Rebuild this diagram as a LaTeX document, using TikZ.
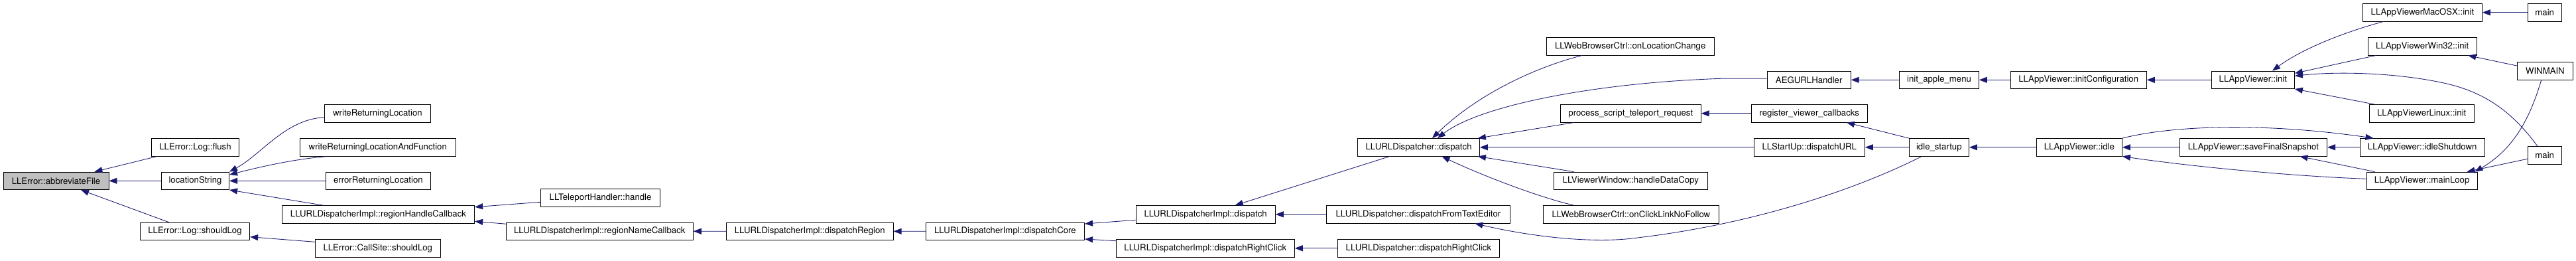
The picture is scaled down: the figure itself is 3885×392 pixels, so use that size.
\documentclass[tikz,border=0pt]{standalone}
\usepackage{fontspec}
\setmainfont{TeX Gyre Heros}
\usetikzlibrary{arrows.meta}
\definecolor{edgec}{HTML}{191970}
\definecolor{fillg}{HTML}{BFBFBF}
\begin{document}
\begin{tikzpicture}[x=1pt,y=-1pt,
  nd/.style={draw=black, line width=0.9pt, inner sep=0pt, minimum height=26.5pt, anchor=center,
    font=\fontsize{13.2}{15}\selectfont, text=black},
  e/.style={draw=edgec, line width=0.85pt, -{Triangle[length=12pt,width=9pt]}, edgec}]
\useasboundingbox (0,0) rectangle (3885,392);
% nodes
\node[nd, fill=fillg, minimum width=159pt] (abbrev) at (84.5,272.3) {LLError::abbreviateFile};
\node[nd, minimum width=132pt] (flush) at (294.5,221.8) {LLError::Log::flush};
\node[nd, minimum width=102.2pt] (locStr) at (294.5,272.3) {locationString};
\node[nd, minimum width=165.3pt] (logShould) at (294,348.3) {LLError::Log::shouldLog};
\node[nd, minimum width=160.2pt] (wRL) at (569.4,170.8) {writeReturningLocation};
\node[nd, minimum width=235.2pt] (wRLAF) at (569.8,222) {writeReturningLocationAndFunction};
\node[nd, minimum width=158.3pt] (eRL) at (570.4,272.3) {errorReturningLocation};
\node[nd, minimum width=290.4pt] (rHC) at (570.5,323) {LLURLDispatcherImpl::regionHandleCallback};
\node[nd, minimum width=188.9pt] (csShould) at (569.8,373.8) {LLError::CallSite::shouldLog};
\node[nd, minimum width=180.2pt] (tpHandle) at (905.6,297.7) {LLTeleportHandler::handle};
\node[nd, minimum width=282pt] (rNC) at (904.3,348.2) {LLURLDispatcherImpl::regionNameCallback};
\node[nd, minimum width=251.8pt] (dRegion) at (1221.3,348.3) {LLURLDispatcherImpl::dispatchRegion};
\node[nd, minimum width=239.4pt] (dCore) at (1515.9,348.2) {LLURLDispatcherImpl::dispatchCore};
\node[nd, minimum width=210.2pt] (iDispatch) at (1818.2,322.8) {LLURLDispatcherImpl::dispatch};
\node[nd, minimum width=269pt] (iRightClick) at (1817.8,373.8) {LLURLDispatcherImpl::dispatchRightClick};
\node[nd, minimum width=183.7pt] (uDispatch) at (2139.6,221.8) {LLURLDispatcher::dispatch};
\node[nd, minimum width=277pt] (uFromTE) at (2138.9,322.8) {LLURLDispatcher::dispatchFromTextEditor};
\node[nd, minimum width=243.9pt] (uRightClick) at (2139.4,373.8) {LLURLDispatcher::dispatchRightClick};
\node[nd, minimum width=252.9pt] (onLocChange) at (2458.7,69.8) {LLWebBrowserCtrl::onLocationChange};
\node[nd, minimum width=211.9pt] (pstr) at (2459.3,170.8) {process\_script\_teleport\_request};
\node[nd, minimum width=231.7pt] (hdc) at (2459.3,272.3) {LLViewerWindow::handleDataCopy};
\node[nd, minimum width=265.3pt] (onClick) at (2459.9,322.8) {LLWebBrowserCtrl::onClickLinkNoFollow};
\node[nd, minimum width=126.1pt] (aeg) at (2728.2,120.3) {AEGURLHandler};
\node[nd, minimum width=175.5pt] (rvc) at (2728.8,170.8) {register\_viewer\_callbacks};
\node[nd, minimum width=167.2pt] (suDURL) at (2728.8,221.8) {LLStartUp::dispatchURL};
\node[nd, minimum width=119.8pt] (iam) at (2924.5,120.3) {init\_apple\_menu};
\node[nd, minimum width=205.2pt] (initConf) at (3134.7,120.3) {LLAppViewer::initConfiguration};
\node[nd, minimum width=90.4pt] (idleSt) at (2924.3,221.8) {idle\_startup};
\node[nd, minimum width=129.3pt] (avIdle) at (3135.8,221.8) {LLAppViewer::idle};
\node[nd, minimum width=125pt] (avInit) at (3397.9,120.3) {LLAppViewer::init};
\node[nd, minimum width=222.3pt] (sfs) at (3398.4,221.8) {LLAppViewer::saveFinalSnapshot};
\node[nd, minimum width=179.9pt] (mac) at (3653.4,18.8) {LLAppViewerMacOSX::init};
\node[nd, minimum width=164.5pt] (win32) at (3653.2,69.8) {LLAppViewerWin32::init};
\node[nd, minimum width=158.2pt] (linux) at (3652.2,170.8) {LLAppViewerLinux::init};
\node[nd, minimum width=188.4pt] (idleShut) at (3653.2,221.8) {LLAppViewer::idleShutdown};
\node[nd, minimum width=167.2pt] (mainLoop) at (3652.6,272.3) {LLAppViewer::mainLoop};
\node[nd, minimum width=51.4pt] (main1) at (3837.7,18.8) {main};
\node[nd, minimum width=84.2pt] (winmain) at (3838.4,106.8) {WINMAIN};
\node[nd, minimum width=51.4pt] (main2) at (3837.7,233.8) {main};
% edges (caller -> callee)
\draw[e] ([xshift=8.8pt]flush.south west) -- ([xshift=-22pt]abbrev.north east);
\draw[e] (locStr.west) -- (abbrev.east);
\draw[e] ([xshift=-39.5pt]logShould.north) -- ([xshift=37.5pt]abbrev.south);
\draw[e] ([yshift=-5.9pt]wRL.west) .. controls (430,180) and (395,232) .. (locStr.north east);
\draw[e] ([xshift=39.6pt]wRLAF.south west) .. controls (440,240) and (390,252) .. ([yshift=9.3pt]locStr.east);
\draw[e] (eRL.west) -- (locStr.east);
\draw[e] ([xshift=-82.2pt]rHC.north) -- (locStr.south east);
\draw[e] ([yshift=9.5pt]csShould.west) -- ([yshift=-8.4pt]logShould.east);
\draw[e] ([yshift=-6.6pt]tpHandle.west) -- ([yshift=11.3pt]rHC.east);
\draw[e] ([yshift=11pt]rNC.west) -- ([yshift=-10.3pt]rHC.east);
\draw[e] (dRegion.west) -- (rNC.east);
\draw[e] (dCore.west) -- (dRegion.east);
\draw[e] ([yshift=-8.5pt]iDispatch.west) -- ([yshift=11.2pt]dCore.east);
\draw[e] ([yshift=11.1pt]iRightClick.west) -- ([yshift=-11.8pt]dCore.east);
\draw[e] ([xshift=-43.8pt]uDispatch.south) -- ([xshift=44.6pt]iDispatch.north);
\draw[e] (uFromTE.west) -- (iDispatch.east);
\draw[e] (uRightClick.west) -- (iRightClick.east);
\draw[e] ([xshift=-72.7pt]onLocChange.south) .. controls (2320,100) and (2230,140) .. ([xshift=20.4pt]uDispatch.north);
\draw[e] ([yshift=2pt]aeg.west) -- (2595,118.3) .. controls (2400,125) and (2230,160) .. ([xshift=28.4pt]uDispatch.north);
\draw[e] ([xshift=-85.7pt]pstr.south) -- ([xshift=-3pt]uDispatch.north east);
\draw[e] (suDURL.west) -- (uDispatch.east);
\draw[e] ([xshift=-85.7pt]hdc.north) -- ([xshift=-3pt]uDispatch.south east);
\draw[e] ([xshift=-86.3pt]onClick.north) .. controls (2320,297) and (2230,262) .. ([xshift=35pt]uDispatch.south);
\draw[e] ([xshift=-26.1pt]idleSt.south) .. controls (2800,285) and (2640,340) .. (2452,360) .. controls (2380,366) and (2290,352) .. ([xshift=85.5pt]uFromTE.south);
\draw[e] (rvc.west) -- (pstr.east);
\draw[e] (iam.west) -- (aeg.east);
\draw[e] (initConf.west) -- (iam.east);
\draw[e] (avInit.west) -- (initConf.east);
\draw[e] (idleSt.north west) -- ([xshift=56.2pt]rvc.south);
\draw[e] (idleSt.west) -- (suDURL.east);
\draw[e] (avIdle.west) -- (idleSt.east);
\draw[e] (sfs.west) -- (avIdle.east);
\draw[e] (avIdle.north east) .. controls (3280,188) and (3420,185) .. ([xshift=21pt]idleShut.north west);
\draw[e] ([yshift=3pt]mainLoop.west) .. controls (3450,265) and (3300,250) .. (avIdle.south east);
\draw[e] (idleShut.west) -- (sfs.east);
\draw[e] ([xshift=13pt]mainLoop.north west) -- ([xshift=-41.5pt]sfs.south east);
\draw[e] ([xshift=31.4pt]mac.south west) .. controls (3530,50) and (3470,75) .. ([xshift=29.1pt]avInit.north);
\draw[e] ([xshift=12.7pt]win32.south west) -- ([yshift=10pt]avInit.east);
\draw[e] ([xshift=-10.8pt]main2.north) .. controls (3790,170) and (3750,140) .. (3690,126) .. controls (3620,110) and (3530,107) .. ([yshift=6pt]avInit.east);
\draw[e] ([xshift=8.6pt]linux.north west) -- (avInit.south east);
\draw[e] (main1.west) -- (mac.east);
\draw[e] ([yshift=7.8pt]winmain.west) -- ([xshift=-13.7pt]win32.south east);
\draw[e] ([xshift=-5.7pt]winmain.south) .. controls (3815,180) and (3790,225) .. ([xshift=-4.2pt]mainLoop.north east);
\draw[e] ([yshift=-5.5pt]main2.west) -- ([xshift=-16.2pt]mainLoop.north east);
\end{tikzpicture}
\end{document}
